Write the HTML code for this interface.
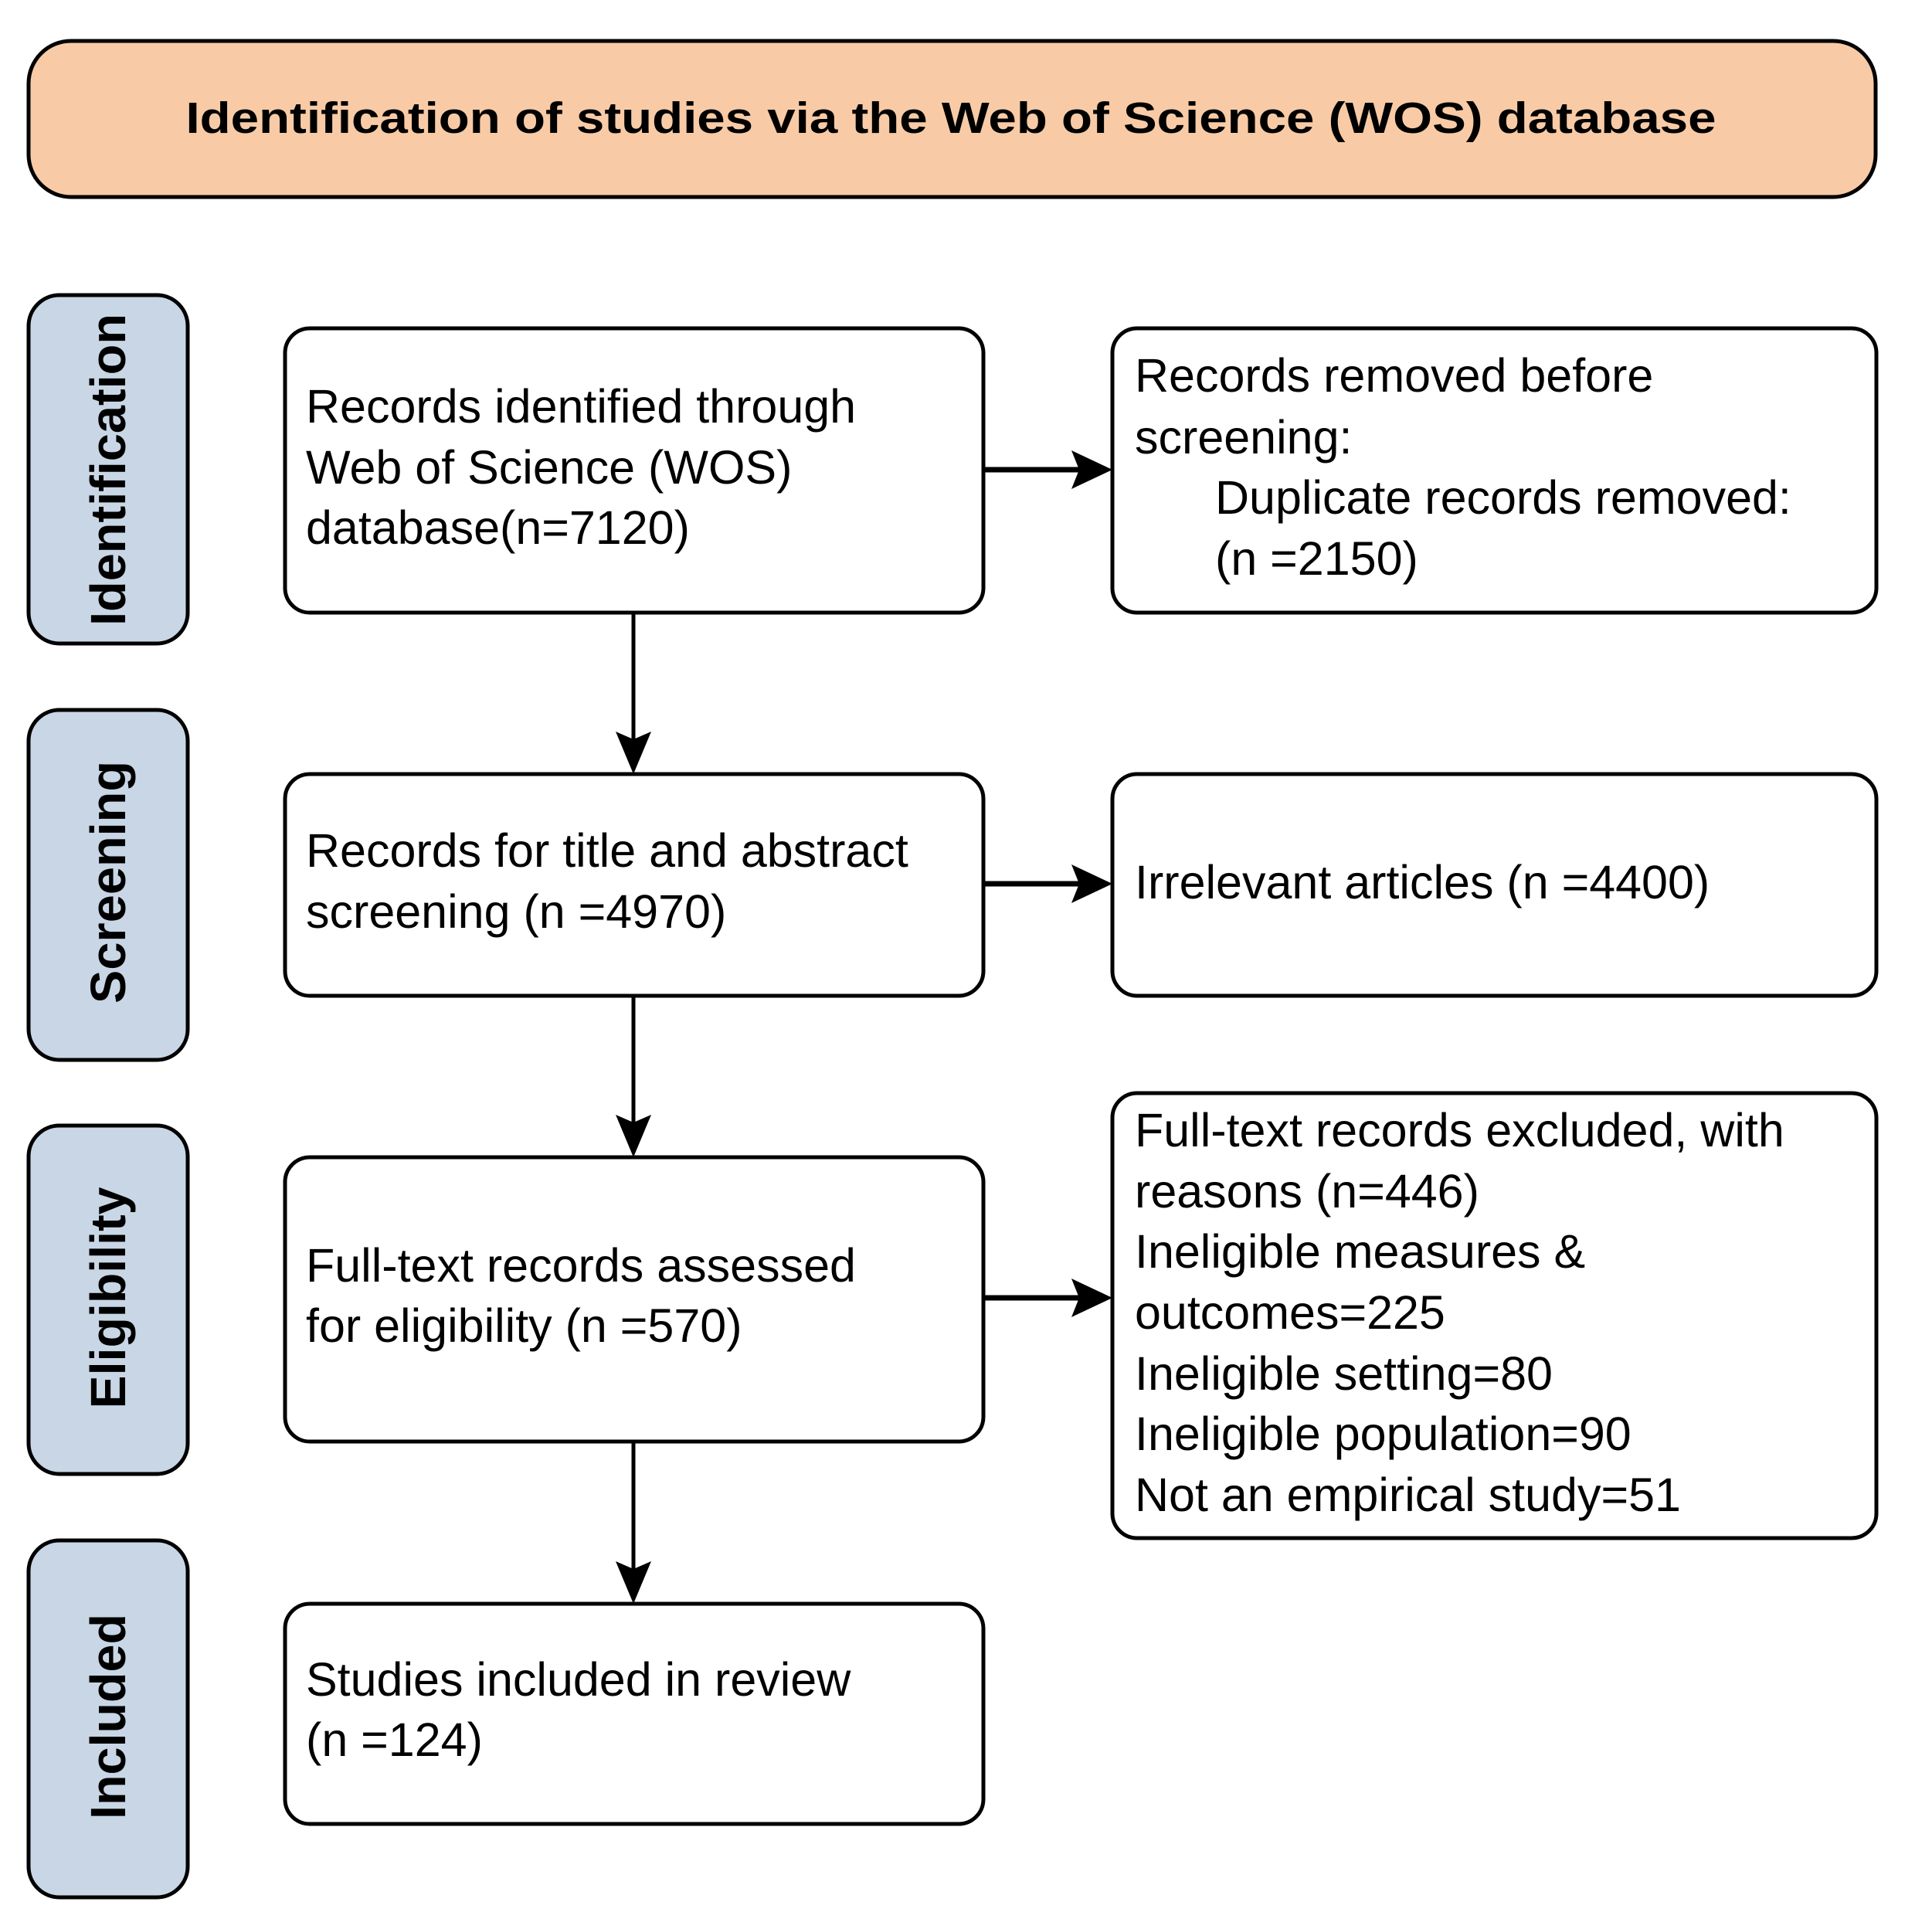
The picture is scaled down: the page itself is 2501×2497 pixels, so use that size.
<!DOCTYPE html>
<html><head><meta charset="utf-8"><style>
html,body{margin:0;padding:0;background:#fff;}
svg{display:block;}
text{font-family:"Liberation Sans",Arial,sans-serif;}
</style></head><body>
<svg width="2501" height="2497" viewBox="0 0 2501 2497" xmlns="http://www.w3.org/2000/svg">
<defs>
<marker id="ah" markerWidth="10" markerHeight="10" refX="9" refY="5" orient="auto" markerUnits="userSpaceOnUse" viewBox="0 0 10 10"></marker>
</defs>
<!-- title -->
<rect x="37" y="53" width="2391" height="202" rx="55" fill="#f8cba6" stroke="#000" stroke-width="5"/>
<text x="1231" y="172" font-size="57" font-weight="bold" text-anchor="middle" textLength="1981" lengthAdjust="spacingAndGlyphs">Identification of studies via the Web of Science (WOS) database</text>

<!-- side labels -->
<g fill="#c8d6e5" stroke="#000" stroke-width="5">
<rect x="37" y="382" width="206" height="451" rx="40"/>
<rect x="37" y="919" width="206" height="453" rx="40"/>
<rect x="37" y="1457" width="206" height="451" rx="40"/>
<rect x="37" y="1994" width="206" height="462" rx="40"/>
</g>
<g font-size="64" font-weight="bold" text-anchor="middle">
<text transform="translate(162,608) rotate(-90)" textLength="404" lengthAdjust="spacingAndGlyphs">Identification</text>
<text transform="translate(162,1142) rotate(-90)" textLength="314" lengthAdjust="spacingAndGlyphs">Screening</text>
<text transform="translate(162,1680) rotate(-90)" textLength="287" lengthAdjust="spacingAndGlyphs">Eligibility</text>
<text transform="translate(162,2222) rotate(-90)" textLength="266" lengthAdjust="spacingAndGlyphs">Included</text>
</g>

<!-- boxes -->
<g fill="#fff" stroke="#000" stroke-width="5">
<rect x="369" y="425" width="904" height="368" rx="32"/>
<rect x="369" y="1002" width="904" height="287" rx="32"/>
<rect x="369" y="1498" width="904" height="368" rx="32"/>
<rect x="369" y="2076" width="904" height="285" rx="32"/>
<rect x="1440" y="425" width="989" height="368" rx="32"/>
<rect x="1440" y="1002" width="989" height="287" rx="32"/>
<rect x="1440" y="1415" width="989" height="576" rx="32"/>
</g>

<!-- arrows -->
<g stroke="#000" fill="none">
<line x1="820" y1="793" x2="820" y2="960" stroke-width="5"/>
<line x1="820" y1="1289" x2="820" y2="1456" stroke-width="5"/>
<line x1="820" y1="1866" x2="820" y2="2034" stroke-width="5"/>
<line x1="1273" y1="608" x2="1405" y2="608" stroke-width="7"/>
<line x1="1273" y1="1144" x2="1405" y2="1144" stroke-width="7"/>
<line x1="1273" y1="1680" x2="1405" y2="1680" stroke-width="7"/>
</g>
<g fill="#000">
<path d="M820,1002 L797,947 L820,957 L843,947 Z"/>
<path d="M820,1498 L797,1443 L820,1453 L843,1443 Z"/>
<path d="M820,2076 L797,2021 L820,2031 L843,2021 Z"/>
<path d="M1440,608 L1387,583 L1397,608 L1387,633 Z"/>
<path d="M1440,1144 L1387,1119 L1397,1144 L1387,1169 Z"/>
<path d="M1440,1680 L1387,1655 L1397,1680 L1387,1705 Z"/>
</g>

<!-- texts -->
<g font-size="61" fill="#000">
<text x="396" y="547">Records identified through</text>
<text x="396" y="626">Web of Science (WOS)</text>
<text x="396" y="704">database(n=7120)</text>

<text x="1469" y="507">Records removed before</text>
<text x="1469" y="587">screening:</text>
<text x="1573" y="665">Duplicate records removed:</text>
<text x="1573" y="744">(n =2150)</text>

<text x="396" y="1122">Records for title and abstract</text>
<text x="396" y="1201">screening (n =4970)</text>

<text x="1469" y="1163">Irrelevant articles (n =4400)</text>

<text x="396" y="1659">Full-text records assessed</text>
<text x="396" y="1737">for eligibility (n =570)</text>

<text x="1469" y="1484">Full-text records excluded, with</text>
<text x="1469" y="1563">reasons (n=446)</text>
<text x="1469" y="1641">Ineligible measures &amp;</text>
<text x="1469" y="1720">outcomes=225</text>
<text x="1469" y="1799">Ineligible setting=80</text>
<text x="1469" y="1877">Ineligible population=90</text>
<text x="1469" y="1956">Not an empirical study=51</text>

<text x="396" y="2195">Studies included in review</text>
<text x="396" y="2273">(n =124)</text>
</g>
</svg>
</body></html>
